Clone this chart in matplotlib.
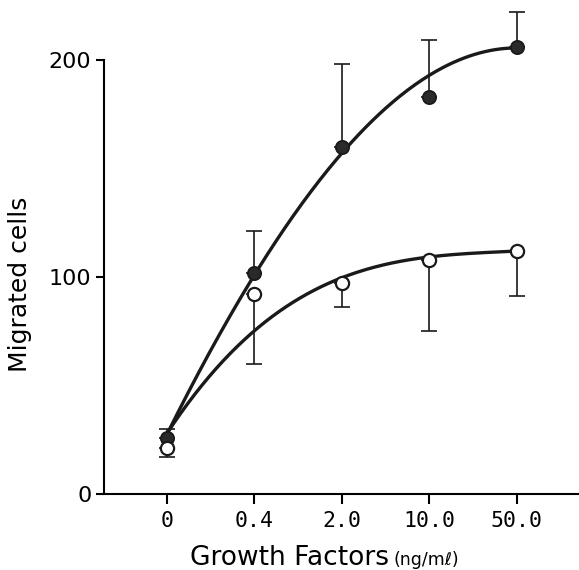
import matplotlib
matplotlib.use("Agg")
import matplotlib.pyplot as plt
from matplotlib.transforms import offset_copy
import numpy as np

# concentrations (categorical axis)
doses = ["0", "0.4", "2.0", "10.0", "50.0"]

# closed circles, error bars upward
closed_mean = [26, 102, 160, 183, 206]
closed_err = [4, 19, 38, 26, 16]
# fitted curve values at each dose
closed_fit = [28, 99, 160, 191, 206]

# open circles, error bars downward
open_mean = [21, 92, 97, 108, 112]
open_err = [4, 32, 11, 33, 21]
open_fit = [28, 75, 100, 109, 112]

xpos = np.arange(len(doses))

fig = plt.figure(figsize=(5.79, 5.70), dpi=100)
ax = fig.add_axes([104 / 579, 76 / 570, 1 - 104 / 579, 494 / 570])

# smooth fitted curves
xs = np.linspace(0, xpos[-1], 200)
for fit in (closed_fit, open_fit):
    coef = np.polyfit(xpos, fit, 3)
    ax.plot(xs, np.polyval(coef, xs), color="#1a1a1a", lw=2.4, zorder=2)

ax.errorbar(xpos, closed_mean, yerr=[np.zeros(5), closed_err], fmt="none",
            ecolor="#1a1a1a", elinewidth=1.2, capsize=6, capthick=1.2, zorder=1)
ax.errorbar(xpos, open_mean, yerr=[open_err, np.zeros(5)], fmt="none",
            ecolor="#1a1a1a", elinewidth=1.2, capsize=6, capthick=1.2, zorder=1)

ax.plot(xpos, closed_mean, "o", ms=9.5, mfc="#2a2a2a", mec="#1a1a1a", mew=1.3, zorder=3)
ax.plot(xpos, open_mean, "o", ms=9.5, mfc="white", mec="#1a1a1a", mew=1.6, zorder=3)

ax.set_xlim(-0.72, 4.71)
ax.set_ylim(0, 227.6)
ax.spines["top"].set_visible(False)
ax.spines["right"].set_visible(False)
ax.spines["left"].set_bounds(0, 200)
ax.spines["left"].set_linewidth(1.5)
ax.spines["bottom"].set_linewidth(1.5)

ax.set_xticks(xpos)
ax.set_xticklabels(doses, family="DejaVu Sans Mono", fontsize=15.5)
ax.set_yticks([0, 100, 200])
ax.set_yticklabels(["0", "100", "200"], family="DejaVu Sans", fontsize=16)
ax.tick_params(axis="x", length=7, width=1.5, pad=5)
ax.tick_params(axis="y", length=6, width=1.5, pad=3)

fig.text(20 / 579, 1 - 284 / 570, "Migrated cells", rotation=90,
         ha="center", va="center", fontsize=18, family="DejaVu Sans")
main = fig.text(190 / 579, 1 - 565 / 570, "Growth Factors", ha="left", va="baseline",
                fontsize=19, family="DejaVu Sans")
fig.canvas.draw()
bb = main.get_window_extent()
fig.text(bb.x1 / fig.bbox.width + 5 / 579, 1 - 565 / 570, "(ng/m\u2113)",
         ha="left", va="baseline", fontsize=12.5, family="DejaVu Sans")

fig.savefig("out.png", dpi=100)
